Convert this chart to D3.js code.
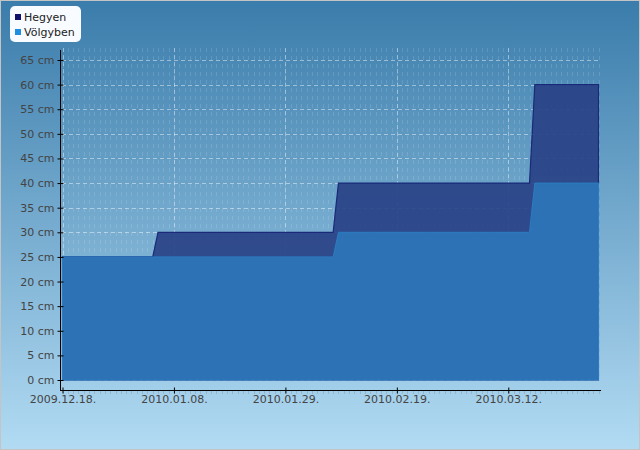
<!DOCTYPE html>
<html>
<head>
<meta charset="utf-8">
<script src="https://cdn.jsdelivr.net/npm/d3@7"></script>
<style>
  html, body { margin: 0; padding: 0; }
  body { width: 640px; height: 450px; overflow: hidden; }
  text { font-family: "DejaVu Sans", sans-serif; }
</style>
</head>
<body>
<script>
// Snow depth data (cm)
const seriesNames = ["Hegyen", "Völgyben"];
const hegyenDates = ["2009-12-18", "2010-01-04", "2010-01-05", "2010-02-07", "2010-02-08", "2010-03-16", "2010-03-17", "2010-03-29"];
const hegyenValues = [25, 25, 30, 30, 40, 40, 60, 60];
const volgybenDates = ["2009-12-18", "2010-02-07", "2010-02-08", "2010-03-16", "2010-03-17", "2010-03-29"];
const volgybenValues = [25, 25, 30, 30, 40, 40];
const xTickDates = ["2009-12-18", "2010-01-08", "2010-01-29", "2010-02-19", "2010-03-12"];
const yTickValues = [0, 5, 10, 15, 20, 25, 30, 35, 40, 45, 50, 55, 60, 65];

const width = 640, height = 450;
const parse = d3.timeParse("%Y-%m-%d");

const hegyen = hegyenDates.map((d, i) => ({ date: parse(d), value: hegyenValues[i] }));
const volgyben = volgybenDates.map((d, i) => ({ date: parse(d), value: volgybenValues[i] }));

const svg = d3.select("body").append("svg")
    .attr("width", width)
    .attr("height", height);

// background gradient
const defs = svg.append("defs");
const grad = defs.append("linearGradient")
    .attr("id", "bg").attr("x1", 0).attr("y1", 0).attr("x2", 0).attr("y2", 1);
grad.append("stop").attr("offset", "0%").attr("stop-color", "#3a7cab");
grad.append("stop").attr("offset", "100%").attr("stop-color", "#b2dbf3");

svg.append("rect")
    .attr("x", 0.5).attr("y", 0.5)
    .attr("width", width - 1).attr("height", height - 1)
    .attr("fill", "url(#bg)")
    .attr("stroke", "#c4c4c4");

const x = d3.scaleTime()
    .domain([parse("2009-12-18"), parse("2010-03-29")])
    .range([62.5, 598.5]);

const y = d3.scaleLinear()
    .domain([0, 65])
    .range([380, 60]);

// minor vertical grid (one per day)
const days = d3.timeDay.range(x.domain()[0], d3.timeDay.offset(x.domain()[1], 1));
svg.append("g")
    .selectAll("line")
    .data(days)
    .join("line")
    .attr("x1", d => Math.round(x(d)) + 0.5)
    .attr("x2", d => Math.round(x(d)) + 0.5)
    .attr("y1", 48)
    .attr("y2", 380)
    .attr("stroke", "#ffffff")
    .attr("stroke-opacity", 0.13)
    .attr("stroke-dasharray", "4,4");

// major vertical grid
svg.append("g")
    .selectAll("line")
    .data(xTickDates.map(parse))
    .join("line")
    .attr("x1", d => Math.round(x(d)) + 0.5)
    .attr("x2", d => Math.round(x(d)) + 0.5)
    .attr("y1", 48)
    .attr("y2", 380)
    .attr("stroke", "#ffffff")
    .attr("stroke-opacity", 0.4)
    .attr("stroke-dasharray", "4,3");

// horizontal grid
svg.append("g")
    .selectAll("line")
    .data(yTickValues)
    .join("line")
    .attr("x1", 62)
    .attr("x2", 599)
    .attr("y1", d => Math.round(y(d)) + 0.5)
    .attr("y2", d => Math.round(y(d)) + 0.5)
    .attr("stroke", "#ffffff")
    .attr("stroke-opacity", 0.45)
    .attr("stroke-dasharray", "4,3");

const area = d3.area()
    .x(d => x(d.date))
    .y0(y(0))
    .y1(d => y(d.value));

// Hegyen (behind)
svg.append("path")
    .datum(hegyen)
    .attr("d", area)
    .attr("fill", "#2a4387")
    .attr("fill-opacity", 0.93)
    .attr("stroke", "#1a2a78")
    .attr("stroke-width", 1.2);

// Völgyben (front)
svg.append("path")
    .datum(volgyben)
    .attr("d", area)
    .attr("fill", "#2c74b6")
    .attr("fill-opacity", 0.96)
    .attr("stroke", "#2b7cc2")
    .attr("stroke-width", 1);

// y axis
const yAxis = svg.append("g")
    .attr("transform", "translate(60.5,0)")
    .call(d3.axisLeft(y).tickValues(yTickValues).tickFormat(d => d + " cm").tickSize(3).tickPadding(3));
yAxis.select(".domain").remove();
yAxis.append("line").attr("y1", 50).attr("y2", 390.5).attr("stroke", "#000");
yAxis.selectAll(".tick line").attr("x1", -3).attr("x2", 3).attr("stroke", "#000");
yAxis.selectAll(".tick text")
    .attr("font-size", 11)
    .attr("fill", "#444")
    .style("font-family", "DejaVu Sans, sans-serif");

// x axis minor ticks
svg.append("g")
    .selectAll("line")
    .data(days)
    .join("line")
    .attr("x1", d => Math.round(x(d)) + 0.5)
    .attr("x2", d => Math.round(x(d)) + 0.5)
    .attr("y1", 391)
    .attr("y2", 394)
    .attr("stroke", "#98b4c8");

// x axis
const xAxis = svg.append("g")
    .attr("transform", "translate(0,390.5)")
    .call(d3.axisBottom(x).tickValues(xTickDates.map(parse)).tickFormat(d3.timeFormat("%Y.%m.%d.")).tickSize(3).tickPadding(2));
xAxis.select(".domain").remove();
xAxis.append("line").attr("x1", 60).attr("x2", 601).attr("stroke", "#000");
xAxis.selectAll(".tick line").attr("y1", -3).attr("y2", 3).attr("stroke", "#000");
xAxis.selectAll(".tick text")
    .attr("font-size", 11)
    .attr("fill", "#444")
    .style("font-family", "DejaVu Sans, sans-serif");

// legend
const legend = svg.append("g");
legend.append("rect")
    .attr("x", 10).attr("y", 6)
    .attr("width", 71).attr("height", 36)
    .attr("rx", 5)
    .attr("fill", "#f8fbff");
const swatchColors = ["#10126a", "#1e8ee0"];
seriesNames.forEach((name, i) => {
    legend.append("rect")
        .attr("x", 15).attr("y", 14 + i * 15)
        .attr("width", 6).attr("height", 6)
        .attr("fill", swatchColors[i]);
    legend.append("text")
        .attr("x", 24).attr("y", 21 + i * 15)
        .attr("font-size", 11)
        .attr("fill", "#222")
        .text(name);
});
</script>
</body>
</html>
